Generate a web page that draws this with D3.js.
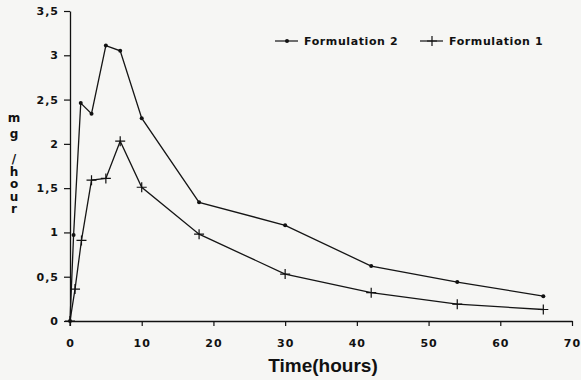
<!DOCTYPE html>
<html>
<head>
<meta charset="utf-8">
<script src="https://cdn.jsdelivr.net/npm/d3@7"></script>
<style>
    body { margin: 0; background: #f6f6f4; }
    svg { display: block; }
    .tick-label { font-family: 'DejaVu Sans', sans-serif; font-weight: bold; font-size: 11px; fill: #111; }
    .legend-label { font-family: 'DejaVu Sans', sans-serif; font-weight: bold; font-size: 11px; fill: #111; }
</style>
</head>
<body>
<svg id="chart" width="581" height="380"></svg>
<script>
'use strict';

// hours after dosing
const timesF2 = [0, 0.5, 1.5, 3, 5, 7, 10, 18, 30, 42, 54, 66];
const timesF1 = [0, 0.7, 1.6, 3, 5, 7, 10, 18, 30, 42, 54, 66];

// mg/hour
const formulation2 = [0, 0.97, 2.46, 2.34, 3.11, 3.05, 2.29, 1.34, 1.08, 0.62, 0.44, 0.28];
const formulation1 = [0, 0.36, 0.91, 1.59, 1.61, 2.03, 1.51, 0.98, 0.53, 0.32, 0.19, 0.13];

const xTicks = [0, 10, 20, 30, 40, 50, 60, 70];
const yTicks = [0, 0.5, 1, 1.5, 2, 2.5, 3, 3.5];
const yLabel = ['m', 'g', '/', 'h', 'o', 'u', 'r'];

const svg = d3.select('#chart');

const x = d3.scaleLinear().domain([0, 70]).range([70, 572]);
const y = d3.scaleLinear().domain([0, 3.5]).range([321, 11]);

const commaFormat = d => String(d).replace('.', ',');

// axes
const xAxis = svg.append('g')
    .attr('transform', `translate(0,${y(0)})`)
    .call(d3.axisBottom(x).tickValues(xTicks).tickSize(5).tickSizeOuter(0).tickPadding(13));

const yAxis = svg.append('g')
    .attr('transform', `translate(${x(0)},0)`)
    .call(d3.axisLeft(y).tickValues(yTicks).tickFormat(commaFormat).tickSize(6).tickSizeOuter(0).tickPadding(5));

[xAxis, yAxis].forEach(axis => {
    axis.select('.domain').attr('stroke', '#111').attr('stroke-width', 1.3);
    axis.selectAll('.tick line').attr('stroke', '#111').attr('stroke-width', 1.2);
    axis.selectAll('.tick text')
        .attr('class', 'tick-label')
        .attr('font-family', null)
        .attr('font-size', null)
        .attr('fill', null)
        .style('letter-spacing', '1px');
});

// axis titles
svg.append('text')
    .attr('x', 323)
    .attr('y', 372)
    .attr('text-anchor', 'middle')
    .style('font-family', "'Liberation Sans', Arial, sans-serif")
    .style('font-weight', 'bold')
    .style('font-size', '19px')
    .style('fill', '#111')
    .text('Time(hours)');

const yTitle = svg.append('text')
    .attr('text-anchor', 'middle')
    .style('font-family', "'DejaVu Sans', sans-serif")
    .style('font-weight', 'bold')
    .style('font-size', '12px')
    .style('fill', '#111');

yLabel.forEach((ch, i) => {
    yTitle.append('tspan')
        .attr('x', 14)
        .attr('y', i < 2 ? 122 + i * 16 : 163 + (i - 2) * 12.5)
        .text(ch);
});

// series
const line = d3.line()
    .x(d => x(d[0]))
    .y(d => y(d[1]));

const seriesF2 = d3.zip(timesF2, formulation2);
const seriesF1 = d3.zip(timesF1, formulation1);

function drawSeries(data, marker) {
    svg.append('path')
        .datum(data)
        .attr('fill', 'none')
        .attr('stroke', '#151515')
        .attr('stroke-width', 1.3)
        .attr('d', line);

    const g = svg.append('g');
    data.forEach(d => marker(g, x(d[0]), y(d[1])));
}

function dotMarker(g, cx, cy) {
    g.append('circle')
        .attr('cx', cx)
        .attr('cy', cy)
        .attr('r', 2)
        .attr('fill', '#111');
}

function plusMarker(g, cx, cy) {
    g.append('path')
        .attr('d', `M${cx - 5},${cy}H${cx + 5}M${cx},${cy - 5}V${cy + 5}`)
        .attr('stroke', '#111')
        .attr('stroke-width', 1.2)
        .attr('fill', 'none');
}

drawSeries(seriesF2, dotMarker);
drawSeries(seriesF1, plusMarker);

// legend
const legendItems = [
    { label: 'Formulation 2', marker: dotMarker, x0: 275 },
    { label: 'Formulation 1', marker: plusMarker, x0: 420 }
];

legendItems.forEach(item => {
    const ly = 41;
    svg.append('line')
        .attr('x1', item.x0)
        .attr('x2', item.x0 + 23)
        .attr('y1', ly)
        .attr('y2', ly)
        .attr('stroke', '#111')
        .attr('stroke-width', 1.2);
    item.marker(svg, item.x0 + 12, ly);
    svg.append('text')
        .attr('class', 'legend-label')
        .attr('x', item.x0 + 29)
        .attr('y', ly + 4)
        .style('letter-spacing', '0.6px')
        .text(item.label);
});
</script>
</body>
</html>
